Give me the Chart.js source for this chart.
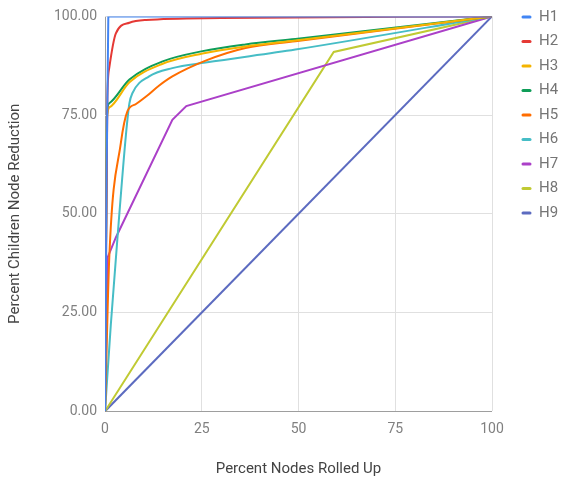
<!DOCTYPE html>
<html>
<head>
<meta charset="utf-8">
<script src="https://cdn.jsdelivr.net/npm/chart.js@4.4.1/dist/chart.umd.min.js"></script>
<style>
    html, body { margin: 0; padding: 0; background: #fff; }
    #wrap { width: 563px; height: 479px; }
</style>
</head>
<body>
<div id="wrap"><canvas id="rollupChart" width="563" height="479"></canvas></div>
<script>
// series (x = percent nodes rolled up, y = percent reduction)
const seriesNames = ['H1', 'H2', 'H3', 'H4', 'H5', 'H6', 'H7', 'H8', 'H9'];
const seriesColors = ['#4285F4', '#E53935', '#F4B400', '#0F9D58', '#FF6D00', '#46BDC6', '#AB40C8', '#C0CA33', '#5C6BC0'];

const h1X = [0, 0.4, 0.85, 100];
const h1Y = [0, 60, 100, 100];
const h2X = [0, 0.6, 1.1, 2.8, 6.3, 10.6, 30, 100];
const h2Y = [0, 79, 87, 95.7, 98.4, 99.1, 99.6, 100];
const h3X = [0, 0.5, 1.2, 6.3, 14.9, 25.2, 36.3, 49.2, 100];
const h3Y = [0, 74, 77, 83.3, 88, 90.6, 92.4, 93.9, 100];
const h4X = [0, 0.5, 1.1, 6.3, 14.9, 25.2, 36.3, 49.2, 100];
const h4Y = [0, 75, 78, 84, 88.6, 91.2, 92.9, 94.3, 100];
const h5X = [0, 1.1, 4.1, 5.8, 8, 10.6, 14, 17.4, 26, 36.3, 49.2, 100];
const h5Y = [0, 39, 68, 76, 77.8, 79.7, 82.5, 84.8, 88.8, 92, 93.7, 100];
const h6X = [0, 1.5, 3.3, 5.4, 6.3, 7.1, 11.4, 17.4, 26, 49.2, 100];
const h6Y = [0, 22, 45, 70, 78, 80.6, 84.8, 86.9, 88.3, 91.6, 100];
const h7X = [0, 0.7, 2.8, 17.4, 21, 100];
const h7Y = [0, 39, 44, 73.8, 77.3, 100];
const h8X = [0, 59.1, 100];
const h8Y = [0, 91, 100];
const h9X = [0, 100];
const h9Y = [0, 100];

const xTicks = [0, 25, 50, 75, 100];
const yTicks = [0, 25, 50, 75, 100];

const allX = [h1X, h2X, h3X, h4X, h5X, h6X, h7X, h8X, h9X];
const allY = [h1Y, h2Y, h3Y, h4Y, h5Y, h6Y, h7Y, h8Y, h9Y];
const smooth = [false, true, true, true, true, true, false, false, false];

const datasets = seriesNames.map(function(name, i) {
    return {
        label: name,
        data: allX[i].map(function(x, j) { return { x: x, y: allY[i][j] }; }),
        borderColor: seriesColors[i],
        backgroundColor: seriesColors[i],
        borderWidth: 2,
        pointRadius: 0,
        fill: false,
        cubicInterpolationMode: smooth[i] ? 'monotone' : 'default',
        tension: 0,
        order: i
    };
});

// nudge the legend to the right and up, clear of the plot
const legendShift = {
    id: 'legendShift',
    afterLayout: function(chart) {
        const lg = chart.legend;
        if (!lg) return;
        const dx = 512 - lg.left;
        const dy = 0 - lg.top;
        lg.left += dx;
        lg.right += dx;
        lg.top += dy;
        lg.bottom += dy;
        if (lg.legendHitBoxes) lg.legendHitBoxes.forEach(function(h) { h.left += dx; h.top += dy; });
    }
};

const ctx = document.getElementById('rollupChart').getContext('2d');
new Chart(ctx, {
    type: 'line',
    data: { datasets: datasets },
    plugins: [legendShift],
    options: {
        responsive: false,
        animation: false,
        layout: {
            padding: { top: 12, left: 6, right: 0, bottom: 1 }
        },
        plugins: {
            tooltip: { enabled: false },
            legend: {
                position: 'right',
                align: 'start',
                labels: {
                    color: '#757575',
                    boxWidth: 10,
                    boxHeight: 3,
                    padding: 9.5,
                    font: { family: 'Roboto', size: 15 },
                    generateLabels: function(chart) {
                        const items = Chart.defaults.plugins.legend.labels.generateLabels(chart);
                        items.forEach(function(it) { it.lineWidth = 0; it.borderRadius = 1.5; });
                        return items;
                    }
                }
            }
        },
        scales: {
            x: {
                type: 'linear',
                min: 0,
                max: 100,
                afterBuildTicks: function(axis) {
                    axis.ticks = xTicks.map(function(v) { return { value: v }; });
                },
                afterFit: function(axis) {
                    axis.paddingRight = 71;
                },
                grid: {
                    color: function(c) { return c.tick && c.tick.value === 0 ? '#9e9e9e' : '#e0e0e0'; },
                    drawTicks: false
                },
                border: { display: false },
                ticks: {
                    color: '#808080',
                    padding: 10,
                    maxRotation: 0,
                    font: { family: 'Roboto', size: 14 }
                },
                title: {
                    display: true,
                    text: 'Percent Nodes Rolled Up',
                    color: '#444',
                    padding: { top: 12, bottom: 0 },
                    font: { family: 'Roboto', size: 15 }
                }
            },
            y: {
                type: 'linear',
                min: 0,
                max: 100,
                afterBuildTicks: function(axis) {
                    axis.ticks = yTicks.map(function(v) { return { value: v }; });
                },
                grid: {
                    color: function(c) { return c.tick && c.tick.value === 0 ? '#9e9e9e' : '#e0e0e0'; },
                    drawTicks: false
                },
                border: { display: false },
                ticks: {
                    color: '#808080',
                    padding: 8,
                    font: { family: 'Roboto', size: 14 },
                    callback: function(v) { return Number(v).toFixed(2); }
                },
                title: {
                    display: true,
                    text: 'Percent Children Node Reduction',
                    color: '#444',
                    padding: { top: 0, bottom: 22 },
                    font: { family: 'Roboto', size: 15 }
                }
            }
        }
    }
});
</script>
</body>
</html>
